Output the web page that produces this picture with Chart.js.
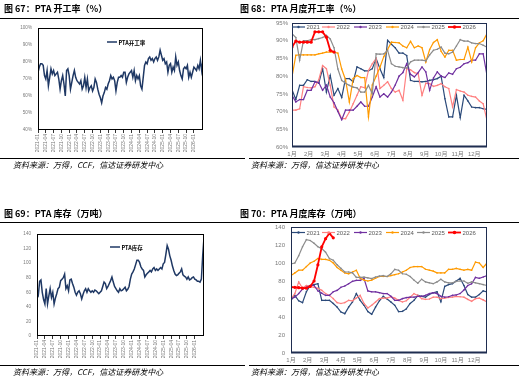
<!DOCTYPE html>
<html><head><meta charset="utf-8">
<script src="https://cdn.jsdelivr.net/npm/chart.js@4.4.1/dist/chart.umd.min.js"></script>
<style>
html,body{margin:0;padding:0;background:#fff;}
#page{position:relative;width:519px;height:384px;overflow:hidden;background:#fff;font-family:"Noto Sans CJK SC","Noto Sans",sans-serif;}
canvas{position:absolute;left:0;top:0;}
.title{position:absolute;font-weight:bold;font-size:9px;color:#000;white-space:nowrap;line-height:10px;}
.src{position:absolute;font-style:italic;font-size:8px;color:#000;white-space:nowrap;line-height:9px;}
.hr{position:absolute;height:0;border-top:1.4px solid #000;}
.hr2{position:absolute;height:0;border-top:1px solid #000;}
</style></head>
<body>
<div id="page">
  <canvas id="c67" width="519" height="384"></canvas>
  <canvas id="c68" width="519" height="384"></canvas>
  <canvas id="c69" width="519" height="384"></canvas>
  <canvas id="c70" width="519" height="384"></canvas>

  <div class="title" style="left:4px;top:4px;">图 67：PTA 开工率（%）</div>
  <div class="title" style="left:240px;top:4px;">图 68：PTA 月度开工率（%）</div>
  <div class="hr" style="left:0;top:17.5px;width:519px;"></div>
  <div class="hr2" style="left:0;top:158px;width:245px;"></div>
  <div class="hr2" style="left:249px;top:158px;width:270px;"></div>
  <div class="src" style="left:13px;top:160px;">资料来源：万得，CCF，信达证券研发中心</div>
  <div class="src" style="left:251px;top:160px;">资料来源：万得，信达证券研发中心</div>

  <div class="title" style="left:4px;top:208.5px;">图 69：PTA 库存（万吨）</div>
  <div class="title" style="left:240px;top:208.5px;">图 70：PTA 月度库存（万吨）</div>
  <div class="hr" style="left:0;top:221.5px;width:519px;"></div>
  <div class="hr2" style="left:0;top:365px;width:245px;"></div>
  <div class="hr2" style="left:249px;top:365px;width:270px;"></div>
  <div class="src" style="left:13px;top:367px;">资料来源：万得，CCF，信达证券研发中心</div>
  <div class="src" style="left:251px;top:367px;">资料来源：万得，信达证券研发中心</div>
</div>
<script>
// ---------------- DATA ----------------
const quarterLabels = ['2021-01','2021-04','2021-07','2021-10','2022-01','2022-04','2022-07','2022-10',
  '2023-01','2023-04','2023-07','2023-10','2024-01','2024-04','2024-07','2024-10',
  '2025-01','2025-04','2025-07','2025-10','2026-01'];
const periodsPerQuarter = 6; // series sampled ~ every half month

// PTA 开工率 (%)
const ptaRate = [
  74,77,79,79,78,72,70,75,66,71,76,73,75,72,73,74,70,64,69,72,67,60,75,76,
  72,64,68,72,75,71,69,68,67,69,64,66,71,65,70,63,65,66,63,65,70,68,64,61,
  59,56,60,62,65,64,67,69,72,70,71,69,63,68,71,71,72,71,74,74,68,71,73,74,
  75,71,75,69,72,70,72,66,64,71,78,80,79,82,83,81,82,80,82,83,81,83,87,84,
  81,82,79,80,74,78,79,74,77,75,83,78,80,75,72,70,76,77,76,78,71,74,71,74,
  77,76,75,78,76,81,75,81];

// PTA 库存 (万吨)
const ptaStock = [
  60,56,75,77,60,50,44,65,44,55,65,53,60,44,52,58,65,67,76,78,80,85,65,69,
  62,77,78,72,67,60,56,60,62,58,51,57,62,65,60,65,62,60,62,60,63,62,60,58,
  60,62,68,74,72,65,68,72,76,81,74,68,65,62,60,65,62,63,65,67,62,64,68,78,
  85,88,92,98,104,104,101,95,92,90,81,84,86,88,90,88,92,94,90,92,90,92,94,92,
  99,101,112,124,119,110,104,96,90,85,83,84,86,88,92,84,82,81,78,81,77,78,80,81,
  78,77,75,75,74,78,110,135];

const monthLabels = ['1月','2月','3月','4月','5月','6月','7月','8月','9月','10月','11月','12月'];
const weeksPerYear = 52;
const yearNames = ['2021','2022','2023','2024','2025','2026'];

// PTA 月度开工率 (%), weekly
const rate2021 = [76.2,73.4,77.4,77.4,79,78.5,78.5,78,82.1,75.5,80.2,74.6,76.5,74,79.3,79.3,78.4,82.6,82.1,81.5,81.5,82.1,85,82.1,79.6,90.1,89,88,86.5,86.5,85.8,78.8,78.5,78.5,78.4,78.5,78.8,79,79.3,80,73.6,68.5,68.5,74.6,68.3,74.6,73,71.3,71.1,71.1,70.8,70.6];
const rate2022 = [70.4,70.4,70.8,77,76.8,76.7,77,79,83,82.1,77.4,71.3,70.4,68,68,69.9,72.2,74.6,77,76.7,81.6,83.5,85,76.5,77.4,78.4,76.5,75.5,76,73.2,82.1,81.8,81,80.7,74.6,78,77.9,77.1,77.4,77.9,77,76.5,71.3,76.2,75.8,75.5,74.6,74.3,74.1,73,72.2,67.5];
const rate2023 = [74.6,72.7,73.4,73.4,76,76,78.4,78.2,76,77.5,74.1,72.5,70,67.7,70.4,70.4,70.4,71.5,72.7,71.5,71.5,74.1,77,74.1,75,74.1,75.5,77.5,80,81,83.5,80.5,79.8,81,82.6,81.2,76,79.5,81.2,80,79.6,80.9,80.5,82.1,82.5,83.5,83.8,84.5,84.5,86.3,86.3,80.2];
const rate2024 = [79.8,85.9,86,86,86,86,86,86.3,86.5,86.8,86.8,86.8,86.5,82,79,72.7,79.3,80.2,79.6,79.6,68.5,77.5,80,82.5,85.5,87.5,89.6,89.5,89.4,88.5,88,89.8,88,88.5,88,84,87.5,89.5,90.3,87,85.4,87.3,87.3,84.5,84.7,84.7,88.2,84,88,89.4,90,92];
const rate2025 = [92,90.9,84.5,90,90,90.3,90.3,90.6,90.9,91.5,90.5,88,82,78.8,78,77.4,76.9,76.7,75.5,75.5,77.4,75,86.3,86.2,86.3,87.3,83.5,82.8,82.6,82.4,82.3,84,84.5,84.5,84.5,84.3,86,87.3,87.6,88.2,86.5,86.3,86.8,88.5,90.3,89.9,89.9,89.4,89.2,89.2,88.7,88.2];
const rate2026 = [88.2,89.9,89.6,89.6,89.6,89.6,92.5,92.5,92.5,91,87.3,86.8];

// PTA 月度库存 (万吨), weekly
const stock2021 = [58.5,64,58,56,68,75,76,77,58.5,58.5,58.5,55,51,45.5,43.7,51,56.7,66,58.5,53,46,43,51,58,63,60,56.7,53,46,46.3,49,55,58.5,64,63,62,65,67,68,57,74,76,77,80,83,75,65,62,62,65,69,68];
const stock2022 = [60.4,66,79,72,75,74,73,72,69.6,66,64,60.4,56,55,56,58.5,58,61,64,55,50,53,56.7,60.4,61,61,62.5,61,58.5,56.7,58,62,66,64,60.4,59.6,60,62,62,60.4,61,61.8,62,63,62.5,62,59.6,57.4,60.4,61,59,56.7];
const stock2023 = [60.4,62,66,71,73,75,75,69,66.5,64,64,68,69.6,73,74.4,77,79.6,80.7,80.7,82.6,69,68,68,67,66,66,63,58.5,58.5,60.4,61.5,62,62,63,63,64,66,67,66,63,62,62.5,64,64.5,66,70,75,77,84,83,84.4,86];
const stock2024 = [86,89,92,92,96,100,102,105,104,104,103,100,95,92,89,88,90,92,83,81,80,81,83,85,85,85,86,87,88,90,92,95,96,96,96,93,92,91,89,89,89,93,93,94,93,92,93,92,101,100,95,100];
const stock2025 = [99,100,108,118,126,125,122,118,116,112,105,103,98,94,90,90,89,84,84,84.4,83.5,82.6,84.4,85.5,86,85,88,93,92,88,87.5,85,81,77.5,82,79,78,77,79,82,79,78,78,79.6,80,80,77.5,79,78,77,76,75];
const stock2026 = [73.3,73,72.6,72,72,74,80,98,118,127,133,128];

// ---------------- STYLE ----------------
const W = 519, H = 384;
const yearColors = ['#2B4A7A','#FF8080','#7030A0','#FF9A00','#8C8C8C','#FF0000'];
const navy = '#1F3864';
const tickFont = "'Liberation Sans','Noto Sans CJK SC',sans-serif";

function pts(arr){ return arr.map((v,i)=>({x:i,y:v})); }

const framePlugin = {
  id:'frame',
  afterDatasetsDraw(chart){
    const f = chart.config.options.frameStyle; if(!f) return;
    const a = chart.chartArea, ctx = chart.ctx;
    ctx.save();
    ctx.strokeStyle = f.color; ctx.lineWidth = f.width;
    ctx.strokeRect(a.left+0.5, a.top+0.5, a.right-a.left-1, a.bottom-a.top-1);
    if(f.bottom){ ctx.lineWidth=f.bottom; ctx.strokeStyle=f.bottomColor||f.color;
      ctx.beginPath(); ctx.moveTo(a.left, a.bottom-0.5); ctx.lineTo(a.right, a.bottom-0.5); ctx.stroke(); }
    ctx.restore();
  }
};
const legendPlugin = {
  id:'inlegend',
  afterDraw(chart){
    const L = chart.config.options.legendItems; if(!L) return;
    const ctx = chart.ctx;
    ctx.save();
    L.forEach(it=>{
      const ds = chart.data.datasets[it.ds];
      ctx.strokeStyle = ds.borderColor; ctx.lineWidth = ds.borderWidth;
      ctx.beginPath(); ctx.moveTo(it.x, it.y); ctx.lineTo(it.x+it.len, it.y); ctx.stroke();
      if(it.marker){ ctx.fillStyle = ds.borderColor; ctx.beginPath(); ctx.arc(it.x+it.len/2, it.y, it.marker, 0, Math.PI*2); ctx.fill(); }
      ctx.fillStyle = it.color; ctx.font = it.font; ctx.textBaseline='middle'; ctx.textAlign='left';
      ctx.fillText(ds.label, it.x+it.len+1.5, it.y+0.5);
    });
    ctx.restore();
  }
};

function makeChart(id, area, datasets, xScale, yScale, extra){
  const cfg = {
    type:'line',
    data:{datasets},
    options: Object.assign({
      responsive:false, animation:false, devicePixelRatio:1,
      layout:{padding:{left:0, top:area.t, right:W-area.r, bottom:0}},
      plugins:{legend:{display:false}, tooltip:{enabled:false}, title:{display:false}},
      elements:{line:{tension:0}},
      scales:{
        x: Object.assign({type:'linear', afterFit:s=>{s.height = H-area.b;}}, xScale),
        y: Object.assign({type:'linear', position:'left', afterFit:s=>{s.width = area.l;}}, yScale)
      }
    }, extra),
    plugins:[framePlugin, legendPlugin]
  };
  return new Chart(document.getElementById(id), cfg);
}

// ---------- Chart 67 / 69 (long weekly series) ----------
function longX(n){
  return {
    min:0, max:n-1,
    afterBuildTicks:s=>{ s.ticks = quarterLabels.map((l,k)=>({value:k*periodsPerQuarter})); },
    grid:{display:true, drawOnChartArea:false, drawTicks:true, tickLength:3, color:'#000', lineWidth:0.8},
    border:{display:false},
    ticks:{autoSkip:false, minRotation:90, maxRotation:90, padding:1, color:'#7a7a7a',
      font:{family:tickFont, size:5}, callback:(v,i)=>quarterLabels[i]}
  };
}
const noGridY = {display:false, drawTicks:false};

makeChart('c67', {l:38,t:28,r:203,b:130},
  [{label:'PTA开工率', data:pts(ptaRate), borderColor:navy, borderWidth:1.5, pointRadius:0}],
  longX(ptaRate.length),
  {min:40, max:100, grid:noGridY, border:{display:false},
   ticks:{stepSize:10, padding:6, color:'#7a7a7a', font:{family:tickFont,size:4.6}, callback:v=>v+'%'}},
  {frameStyle:{color:'#000', width:1},
   legendItems:[{ds:0, x:107, y:42, len:10, color:'#000', font:"bold 5.5px 'Noto Sans CJK SC', sans-serif"}]}
);

makeChart('c69', {l:37,t:234,r:204,b:336},
  [{label:'PTA库存', data:pts(ptaStock), borderColor:navy, borderWidth:1.5, pointRadius:0}],
  longX(ptaStock.length),
  {min:0, max:140, grid:noGridY, border:{display:false},
   ticks:{stepSize:20, padding:6, color:'#7a7a7a', font:{family:tickFont,size:4.6}}},
  {frameStyle:{color:'#000', width:1},
   legendItems:[{ds:0, x:110, y:247, len:10, color:'#000', font:"bold 5.5px 'Noto Sans CJK SC', sans-serif"}]}
);

// ---------- Chart 68 / 70 (by year) ----------
function yearSets(series){
  return series.map((arr,k)=>({
    label:yearNames[k], data:pts(arr), borderColor:yearColors[k], backgroundColor:yearColors[k],
    borderWidth: k===5?1.8:1.2, pointRadius: k===5?1.6:0.8, pointBorderWidth:0,
    order: series.length-k
  }));
}
function monthX(){
  return {
    min:0, max:weeksPerYear-1,
    afterBuildTicks:s=>{ s.ticks = monthLabels.map((l,m)=>({value:m*weeksPerYear/12})); },
    grid:{display:false, drawTicks:false}, border:{display:false},
    ticks:{autoSkip:false, maxRotation:0, minRotation:0, padding:4, color:'#7a7a7a',
      font:{family:tickFont,size:6}, callback:(v,i)=>monthLabels[i]}
  };
}
const legendXs = [292,322,354,386,417,448];
function yearLegend(y){
  return yearNames.map((n,k)=>({ds:k, x:legendXs[k], y:y, len:13, marker:k===5?1.8:1.2,
    color:'#595959', font:"6px 'Liberation Sans', sans-serif"}));
}

makeChart('c68', {l:292,t:23,r:487,b:147},
  yearSets([rate2021,rate2022,rate2023,rate2024,rate2025,rate2026]),
  monthX(),
  {min:60, max:95, grid:noGridY, border:{display:false},
   ticks:{stepSize:5, padding:4, color:'#7a7a7a', font:{family:tickFont,size:6}, callback:v=>v+'%'}},
  {frameStyle:{color:'#1F2D50', width:1, bottom:2, bottomColor:'#1F2D50'}, legendItems:yearLegend(27)}
);

makeChart('c70', {l:291,t:227,r:487,b:353},
  yearSets([stock2021,stock2022,stock2023,stock2024,stock2025,stock2026]),
  monthX(),
  {min:0, max:140, grid:noGridY, border:{display:false},
   ticks:{stepSize:20, padding:6, color:'#7a7a7a', font:{family:tickFont,size:6}}},
  {frameStyle:{color:'#1F2D50', width:1, bottom:2, bottomColor:'#1F2D50'}, legendItems:yearLegend(232.5)}
);
</script>
</body></html>
